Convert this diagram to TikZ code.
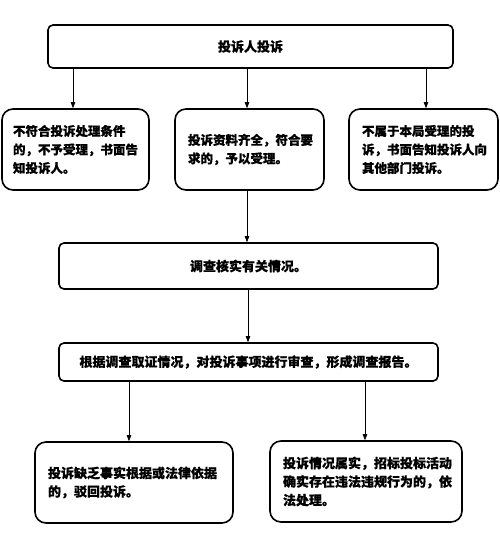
\documentclass[tikz,border=0pt]{standalone}
\usepackage{fontspec}
\setmainfont{Noto Sans CJK SC}[BoldFeatures={FakeBold=0.6}]
\usetikzlibrary{arrows.meta}
\begin{document}
\begin{tikzpicture}[x=1pt,y=-1pt,
  box/.style={draw,line width=1.6pt,rounded corners=5pt,inner sep=0pt,
    font=\fontsize{13}{18.5}\selectfont\bfseries},
  tbox/.style={box,rounded corners=11pt,align=left},
  sbox/.style={tbox,font=\fontsize{12.5}{18.5}\selectfont\bfseries},
  arr/.style={-{Triangle[width=4.5pt,length=6pt]},line width=0.7pt}]
\useasboundingbox (0,0) rectangle (499,558);
\node[box,minimum width=405pt,minimum height=43pt] (top) at (250.5,46.5) {投诉人投诉};
\node[sbox,minimum width=147pt,minimum height=81pt,text width=125pt] (l) at (75.5,149.5)
  {不符合投诉处理条件\\的，不予受理，书面告\\知投诉人。};
\node[sbox,minimum width=149pt,minimum height=81pt,text width=123pt] (m) at (249.5,149.5)
  {投诉资料齐全，符合要\\求的，予以受理。};
\node[sbox,minimum width=149pt,minimum height=81pt,text width=123pt] (r) at (423.5,149.5)
  {不属于本局受理的投\\诉，书面告知投诉人向\\其他部门投诉。};
\node[box,minimum width=379pt,minimum height=46pt] (c) at (248.5,266) {调查核实有关情况。};
\node[box,minimum width=379pt,minimum height=38pt] (d) at (248.5,362)
  {根据调查取证情况，对投诉事项进行审查，形成调查报告。};
\node[tbox,minimum width=198pt,minimum height=81pt,text width=172pt] (bl) at (134,482.5)
  {投诉缺乏事实根据或法律依据\\的，驳回投诉。};
\node[tbox,minimum width=192pt,minimum height=81pt,text width=166pt] (br) at (366,481.5)
  {投诉情况属实，招标投标活动\\确实存在违法违规行为的，依\\法处理。};
\draw[arr] (top.south -| 73,0) -- (l.north -| 73,0);
\draw[arr] (top.south -| 247,0) -- (m.north -| 247,0);
\draw[arr] (top.south -| 426,0) -- (r.north -| 426,0);
\draw[arr] (m.south -| 247,0) -- (c.north -| 247,0);
\draw[arr] (c.south -| 248,0) -- (d.north -| 248,0);
\draw[arr] (d.south -| 129,0) -- (bl.north -| 129,0);
\draw[arr] (d.south -| 365,0) -- (br.north -| 365,0);
\end{tikzpicture}
\end{document}
